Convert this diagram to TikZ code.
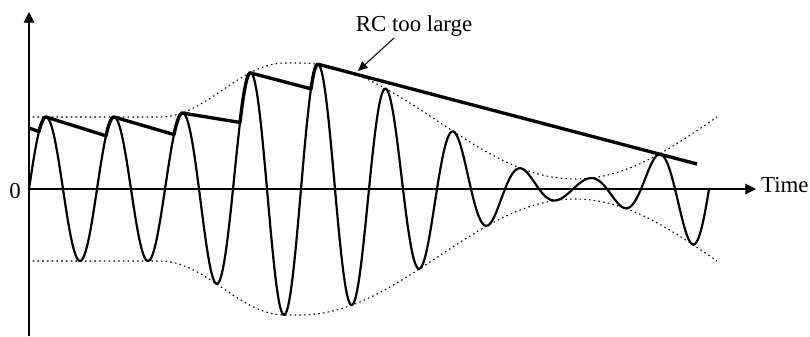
\documentclass[tikz,border=0pt]{standalone}
\usepackage{fontspec}
\setmainfont{Liberation Serif}
\usetikzlibrary{positioning,arrows.meta}

\begin{document}
\begin{tikzpicture}[x=0.02cm, y=0.02cm,
    axis/.style={line width=0.6pt, -{Triangle[length=6pt,width=6pt]}},
    carrier/.style={line width=1.25pt, line join=round, smooth, samples=600},
    envelope/.style={line width=0.6pt, dash pattern=on 0.9pt off 1.8pt, smooth, samples=200},
    detector/.style={line width=1.9pt, line join=round},
    label/.style={font=\fontsize{13}{15}\selectfont, inner sep=1pt},
    declare function={
      env(\x)=(\x<160) ? 72 : ((\x<285) ? (72+27*(1-cos((\x-160)/125*180))) :
              ((\x<300) ? 126 : ((\x<575) ? (126-58*(1-cos((\x-300)/275*180))) :
              (10+62*(1-cos((\x-575)/142*90))))));
      sig(\x)=env(\x)*sin((\x-29)/68*360);
    }]
  \useasboundingbox (0,0) rectangle (810,336);

  % axes
  \coordinate (origin) at (29,147);
  \coordinate (ybase) at (29,0);
  \coordinate (ytip) at (29,324);
  \coordinate (xtip) at (756,147);
  \draw[axis] (ybase) -- (ytip);
  \draw[axis] (origin) -- (xtip);
  \node[label, anchor=base west] (timelabel) at (759,144) {Time};
  \node[label] (zerolabel) at (15,145) {0};

  % envelope
  \draw[envelope] plot[domain=28:717] (\x,{147+env(\x)});
  \draw[envelope] plot[domain=28:717] (\x,{147-env(\x)});

  % modulated carrier
  \draw[carrier] plot[domain=29:709] (\x,{147+sig(\x)});

  % detector output, RC too large
  \draw[detector] (29,208)
    -- plot[domain=39:46, samples=8] (\x,{147+sig(\x)})
    -- plot[domain=106:114, samples=8] (\x,{147+sig(\x)})
    -- plot[domain=174:182, samples=8] (\x,{147+sig(\x)})
    -- plot[domain=240:250, samples=10] (\x,{147+sig(\x)})
    -- plot[domain=311:318, samples=8] (\x,{147+sig(\x)})
    -- (697,172);

  \node[label, anchor=base] (rclabel) at (414,305) {RC too large};
  \coordinate (rctip) at (358,265);
  \draw[line width=0.6pt, -{Triangle[length=5.5pt,width=5pt]}] ([xshift=-0.4cm]rclabel.south) -- (rctip);
\end{tikzpicture}
\end{document}
